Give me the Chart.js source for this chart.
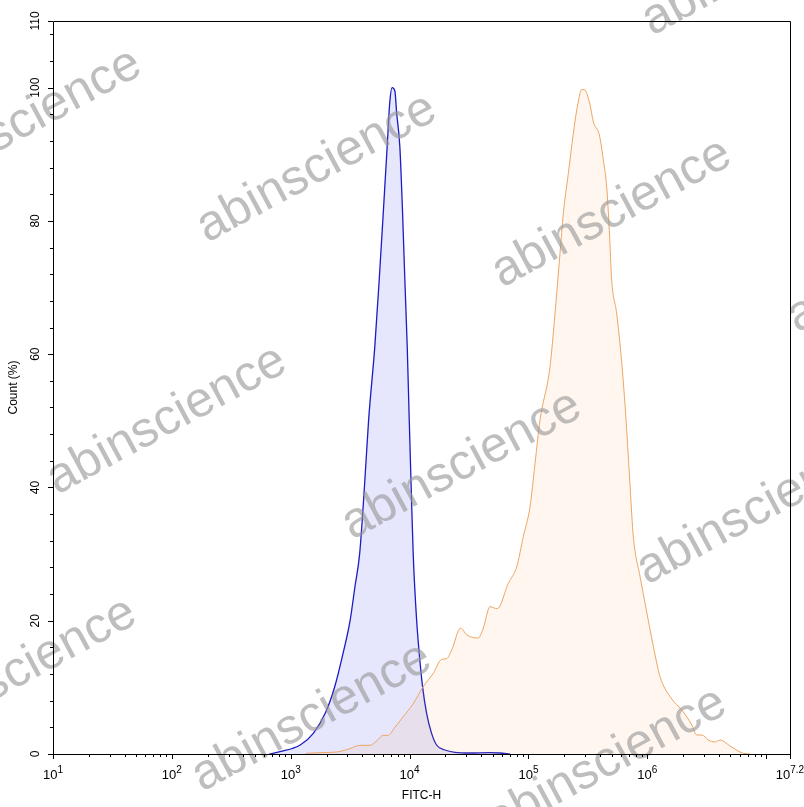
<!DOCTYPE html>
<html>
<head>
<meta charset="utf-8">
<script src="https://cdn.jsdelivr.net/npm/chart.js@4.4.1/dist/chart.umd.min.js"></script>
<style>
  html, body { margin: 0; padding: 0; background: #fff; }
  canvas { display: block; }
</style>
</head>
<body>
<canvas id="chart" width="804" height="807"></canvas>
<script>
// x positions are log10(FITC-H)
const blueExp = [2.82, 2.91, 3.08, 3.19, 3.29, 3.37, 3.44, 3.50, 3.54, 3.58, 3.62, 3.655, 3.707, 3.744, 3.778, 3.811, 3.834, 3.853, 3.876, 3.891, 3.918, 3.941, 3.960, 3.980, 3.997, 4.013, 4.030, 4.059, 4.081, 4.109, 4.143, 4.185, 4.227, 4.297, 4.381, 4.508, 4.676, 4.760, 4.844];
const blueCount = [0, 0.35, 1.35, 3.1, 6.1, 10.1, 15.1, 20.1, 25.1, 30.1, 40.1, 50.1, 61.1, 71.1, 81.1, 91.1, 98, 100, 99.5, 96.2, 91.1, 81.1, 71.1, 61.1, 50.1, 40.1, 30.1, 20.1, 15.1, 10.1, 6.1, 3.1, 1.35, 0.6, 0.25, 0.15, 0.2, 0.15, 0];

const orangeExp = [3.13, 3.245, 3.386, 3.497, 3.582, 3.666, 3.725, 3.778, 3.817, 3.876, 3.946, 4.028, 4.114, 4.199, 4.269, 4.311, 4.354, 4.429, 4.480, 4.577, 4.620, 4.676, 4.737, 4.830, 4.901, 4.956, 5.013, 5.055, 5.097, 5.181, 5.223, 5.265, 5.293, 5.335, 5.377, 5.406, 5.448, 5.470, 5.518, 5.545, 5.596, 5.630, 5.658, 5.680, 5.700, 5.742, 5.785, 5.821, 5.855, 5.882, 5.939, 5.981, 6.051, 6.107, 6.191, 6.303, 6.374, 6.416, 6.458, 6.513, 6.570, 6.612, 6.696, 6.808, 6.865];
const orangeCount = [0.1, 0.2, 0.3, 0.8, 1.3, 1.3, 2.0, 2.8, 2.8, 4.0, 5.6, 7.5, 10.1, 12.1, 14.2, 14.3, 15.6, 18.9, 17.9, 17.4, 18.9, 22.1, 21.8, 25.6, 28.1, 32.6, 37.1, 43.6, 50.1, 58.1, 66.1, 75.1, 81.1, 87.1, 93.1, 96.6, 99.7, 99.7, 97.4, 94.9, 92.9, 89.1, 85.1, 78.6, 71.1, 66.1, 58.6, 50.1, 40.1, 32.6, 26.6, 22.6, 16.1, 11.6, 8.6, 6.3, 4.35, 2.85, 2.85, 2.1, 1.8, 2.1, 1.2, 0.1, 0];

const xTickExp = [1, 2, 3, 4, 5, 6, 7.2];
const yTicks = [0, 20, 40, 60, 80, 100, 110];
const yMinorStep = 4;

function toPoints(exps, counts) {
    let pts = [];
    for (let i = 0; i < exps.length; i++) {
        pts.push({x: Math.pow(10, exps[i]), y: counts[i]});
    }
    return pts;
}

const axesPlugin = {
    id: 'axesPlugin',
    afterDraw(chart) {
        const ctx = chart.ctx;
        const xs = chart.scales.x;
        const ys = chart.scales.y;
        const a = chart.chartArea;

        // watermark
        ctx.save();
        ctx.font = '50px "Liberation Sans", Arial, sans-serif';
        ctx.fillStyle = 'rgba(150,150,150,0.62)';
        ctx.textBaseline = 'alphabetic';
        for (let i = -1; i <= 3; i++) {
            for (let j = -1; j <= 3; j++) {
                let px = 207 + i * 295 - j * 150;
                let py = 243 + i * 45 + j * 252;
                ctx.save();
                ctx.translate(px, py);
                ctx.rotate(-28.3 * Math.PI / 180);
                ctx.fillText('abinscience', 0, 0);
                ctx.restore();
            }
        }
        ctx.restore();

        ctx.save();
        ctx.strokeStyle = '#000';
        ctx.lineWidth = 1;
        ctx.beginPath();
        ctx.rect(Math.round(a.left) + 0.5, Math.round(a.top) + 0.5, Math.round(a.right - a.left), Math.round(a.bottom - a.top));
        ctx.stroke();

        // x ticks
        ctx.beginPath();
        for (let d = 1; d <= 7; d++) {
            for (let k = 1; k <= 9; k++) {
                let v = k * Math.pow(10, d);
                if (v > xs.max) break;
                let px = Math.round(xs.getPixelForValue(v)) + 0.5;
                let len = k === 1 ? 5 : 3;
                ctx.moveTo(px, a.bottom);
                ctx.lineTo(px, a.bottom + len);
            }
        }
        let pxEnd = Math.round(xs.getPixelForValue(xs.max)) + 0.5;
        ctx.moveTo(pxEnd, a.bottom);
        ctx.lineTo(pxEnd, a.bottom + 5);

        // y ticks
        for (let v = 0; v <= 110; v += yMinorStep) {
            let py = Math.round(ys.getPixelForValue(v)) + 0.5;
            ctx.moveTo(a.left, py);
            ctx.lineTo(a.left - 3, py);
        }
        for (let i = 0; i < yTicks.length; i++) {
            let py = Math.round(ys.getPixelForValue(yTicks[i])) + 0.5;
            ctx.moveTo(a.left, py);
            ctx.lineTo(a.left - 5, py);
        }
        ctx.stroke();

        // x labels with superscripts
        ctx.fillStyle = '#000';
        ctx.textBaseline = 'alphabetic';
        for (let i = 0; i < xTickExp.length; i++) {
            let e = xTickExp[i];
            let px = xs.getPixelForValue(Math.pow(10, e));
            ctx.font = '13px "Liberation Sans", Arial, sans-serif';
            let w1 = ctx.measureText('10').width;
            ctx.font = '10px "Liberation Sans", Arial, sans-serif';
            let w2 = ctx.measureText(String(e)).width;
            let x0 = px - (w1 + w2) / 2;
            ctx.font = '13px "Liberation Sans", Arial, sans-serif';
            ctx.textAlign = 'left';
            ctx.fillText('10', x0, 779);
            ctx.font = '10px "Liberation Sans", Arial, sans-serif';
            ctx.fillText(String(e), x0 + w1, 773);
        }

        // y labels, rotated
        ctx.font = '12px "Liberation Sans", Arial, sans-serif';
        ctx.textAlign = 'center';
        ctx.textBaseline = 'middle';
        for (let i = 0; i < yTicks.length; i++) {
            let py = ys.getPixelForValue(yTicks[i]);
            ctx.save();
            ctx.translate(36, py);
            ctx.rotate(-Math.PI / 2);
            ctx.fillText(String(yTicks[i]), 0, 0);
            ctx.restore();
        }

        // axis titles
        ctx.font = '12px "Liberation Sans", Arial, sans-serif';
        ctx.fillText('FITC-H', (a.left + a.right) / 2, 796);
        ctx.save();
        ctx.translate(14, (a.top + a.bottom) / 2);
        ctx.rotate(-Math.PI / 2);
        ctx.fillText('Count (%)', 0, 0);
        ctx.restore();
        ctx.restore();
    }
};

const ctx = document.getElementById('chart').getContext('2d');
const chart = new Chart(ctx, {
    type: 'line',
    data: {
        datasets: [
            {
                label: 'orange',
                data: toPoints(orangeExp, orangeCount),
                borderColor: '#eea463',
                backgroundColor: 'rgba(245,160,80,0.09)',
                borderWidth: 1,
                fill: 'origin',
                pointRadius: 0,
                cubicInterpolationMode: 'monotone'
            },
            {
                label: 'blue',
                data: toPoints(blueExp, blueCount),
                borderColor: '#1c1cc4',
                backgroundColor: 'rgba(60,60,230,0.13)',
                borderWidth: 1.3,
                fill: 'origin',
                pointRadius: 0,
                cubicInterpolationMode: 'monotone'
            }
        ]
    },
    options: {
        responsive: false,
        animation: false,
        devicePixelRatio: 1,
        layout: {
            padding: {left: 53, right: 14, top: 21, bottom: 53}
        },
        plugins: {
            legend: {display: false},
            tooltip: {enabled: false}
        },
        scales: {
            x: {
                type: 'logarithmic',
                min: 10,
                max: Math.pow(10, 7.2),
                display: false
            },
            y: {
                type: 'linear',
                min: 0,
                max: 110,
                display: false
            }
        }
    },
    plugins: [axesPlugin]
});
</script>
</body>
</html>
